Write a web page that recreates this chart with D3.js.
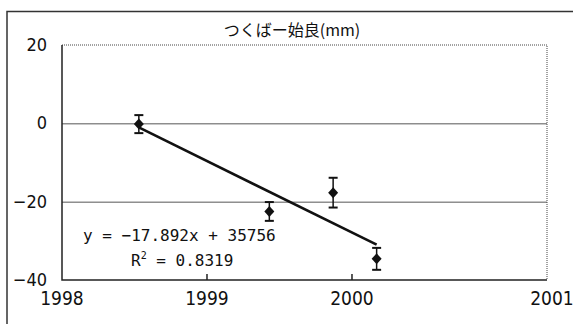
<!DOCTYPE html>
<html lang="ja">
<head>
<meta charset="utf-8">
<title>つくばー始良</title>
<script src="https://cdn.jsdelivr.net/npm/d3@7"></script>
<style>
  body { margin: 0; background: #fff; }
  .tick-label { font-family: "Liberation Sans Narrow", "DejaVu Sans Condensed", "Liberation Sans", sans-serif; fill: #111; }
  .title { font-family: "Noto Sans CJK JP", sans-serif; font-size: 16px; fill: #111; }
  .eq { font-family: "DejaVu Sans Mono", "Liberation Mono", monospace; font-size: 16px; fill: #111; }
  .grid { stroke: #555; stroke-width: 1; }
</style>
</head>
<body>
<script>
// data
var years  = [1998.53, 1999.43, 1999.87, 2000.17];
var values = [-0.2, -22.5, -17.7, -34.6];
var errors = [2.3, 2.4, 3.8, 2.8];
var xTicks = [1998, 1999, 2000, 2001];
var yTicks = [20, 0, -20, -40];
var gridLines = [0, -20];
var xMax = 2001.345; // the plot runs a little past 2001; the last label sits at its end

var width = 573, height = 324;
var svg = d3.select('body').append('svg')
  .attr('width', width)
  .attr('height', height);

var x = d3.scaleLinear().domain([1998, xMax]).range([62, 547]);
var y = d3.scaleLinear().domain([-40, 20]).range([280, 45]);

// outer frame (cut off on the right and bottom)
svg.append('path')
  .attr('d', 'M7,330 L7,11.5 L580,11.5')
  .attr('fill', 'none')
  .attr('stroke', '#333')
  .attr('stroke-width', 1.5);

svg.append('text')
  .attr('class', 'title')
  .attr('x', 292)
  .attr('y', 36)
  .attr('text-anchor', 'middle')
  .text('つくばー始良(mm)');

// grid lines
svg.selectAll('.grid')
  .data(gridLines)
  .enter().append('line')
  .attr('class', 'grid')
  .attr('x1', x(1998)).attr('x2', x(xMax))
  .attr('y1', function(d){ return y(d) + 0.5; })
  .attr('y2', function(d){ return y(d) + 0.5; });

// plot border: solid left/bottom, dotted top/right
svg.append('path')
  .attr('d', 'M' + x(1998) + ',' + y(20) + ' L' + x(xMax) + ',' + y(20) + ' L' + x(xMax) + ',' + y(-40))
  .attr('fill', 'none')
  .attr('stroke', '#444')
  .attr('stroke-width', 1)
  .attr('stroke-dasharray', '1,1');
svg.append('path')
  .attr('d', 'M' + x(1998) + ',' + y(20) + ' L' + x(1998) + ',' + y(-40) + ' L' + x(xMax) + ',' + y(-40))
  .attr('fill', 'none')
  .attr('stroke', '#222')
  .attr('stroke-width', 1.5);

// small ticks on the bottom edge
svg.selectAll('.xtick')
  .data(xTicks.slice(1, 3))
  .enter().append('line')
  .attr('class', 'xtick')
  .attr('x1', function(d){ return x(d); })
  .attr('x2', function(d){ return x(d); })
  .attr('y1', y(-40))
  .attr('y2', y(-40) - 6)
  .attr('stroke', '#222')
  .attr('stroke-width', 1.5);

svg.selectAll('.ylabel')
  .data(yTicks)
  .enter().append('text')
  .attr('class', 'tick-label ylabel')
  .attr('x', 47)
  .attr('y', function(d){ return y(d) + 6; })
  .attr('text-anchor', 'end')
  .style('font-size', '18px')
  .text(function(d){ return d < 0 ? '−' + Math.abs(d) : d; });

svg.selectAll('.xlabel')
  .data(xTicks)
  .enter().append('text')
  .attr('class', 'tick-label xlabel')
  .attr('x', function(d, i){ return i === xTicks.length - 1 ? x(xMax) + 5 : x(d); })
  .attr('y', 305)
  .attr('text-anchor', 'middle')
  .style('font-size', '19px')
  .text(function(d){ return d; });

// least squares trend line
var mx = d3.mean(years), my = d3.mean(values);
var sxy = d3.sum(years, function(d, i){ return (d - mx) * (values[i] - my); });
var sxx = d3.sum(years, function(d){ return (d - mx) * (d - mx); });
var slope = sxy / sxx, icpt = my - slope * mx;
var x0 = d3.min(years), x1 = d3.max(years);
svg.append('line')
  .attr('x1', x(x0)).attr('y1', y(slope * x0 + icpt))
  .attr('x2', x(x1)).attr('y2', y(slope * x1 + icpt))
  .attr('stroke', '#111')
  .attr('stroke-width', 2.6);

// error bars
var pts = years.map(function(d, i){ return {x: d, y: values[i], e: errors[i]}; });
var eb = svg.selectAll('.eb').data(pts).enter().append('g').attr('class', 'eb');
eb.append('line')
  .attr('x1', function(d){ return x(d.x); }).attr('x2', function(d){ return x(d.x); })
  .attr('y1', function(d){ return y(d.y + d.e); }).attr('y2', function(d){ return y(d.y - d.e); })
  .attr('stroke', '#111').attr('stroke-width', 1.5);
eb.selectAll('.cap')
  .data(function(d){ return [{x: d.x, v: d.y + d.e}, {x: d.x, v: d.y - d.e}]; })
  .enter().append('line')
  .attr('x1', function(d){ return x(d.x) - 4.5; }).attr('x2', function(d){ return x(d.x) + 4.5; })
  .attr('y1', function(d){ return y(d.v); }).attr('y2', function(d){ return y(d.v); })
  .attr('stroke', '#111').attr('stroke-width', 2);

// diamond markers
svg.selectAll('.pt')
  .data(pts)
  .enter().append('path')
  .attr('class', 'pt')
  .attr('transform', function(d){ return 'translate(' + x(d.x) + ',' + y(d.y) + ')'; })
  .attr('d', 'M0,-5.5 L5,0 L0,5.5 L-5,0 Z')
  .attr('fill', '#111');

svg.append('text')
  .attr('class', 'eq')
  .attr('x', 83)
  .attr('y', 241)
  .text('y = −17.892x + 35756');
var r2 = svg.append('text')
  .attr('class', 'eq')
  .attr('x', 131)
  .attr('y', 266);
r2.append('tspan').text('R');
r2.append('tspan').attr('dy', -7).style('font-size', '10px').text('2');
r2.append('tspan').attr('dy', 7).text(' = 0.8319');
</script>
</body>
</html>
